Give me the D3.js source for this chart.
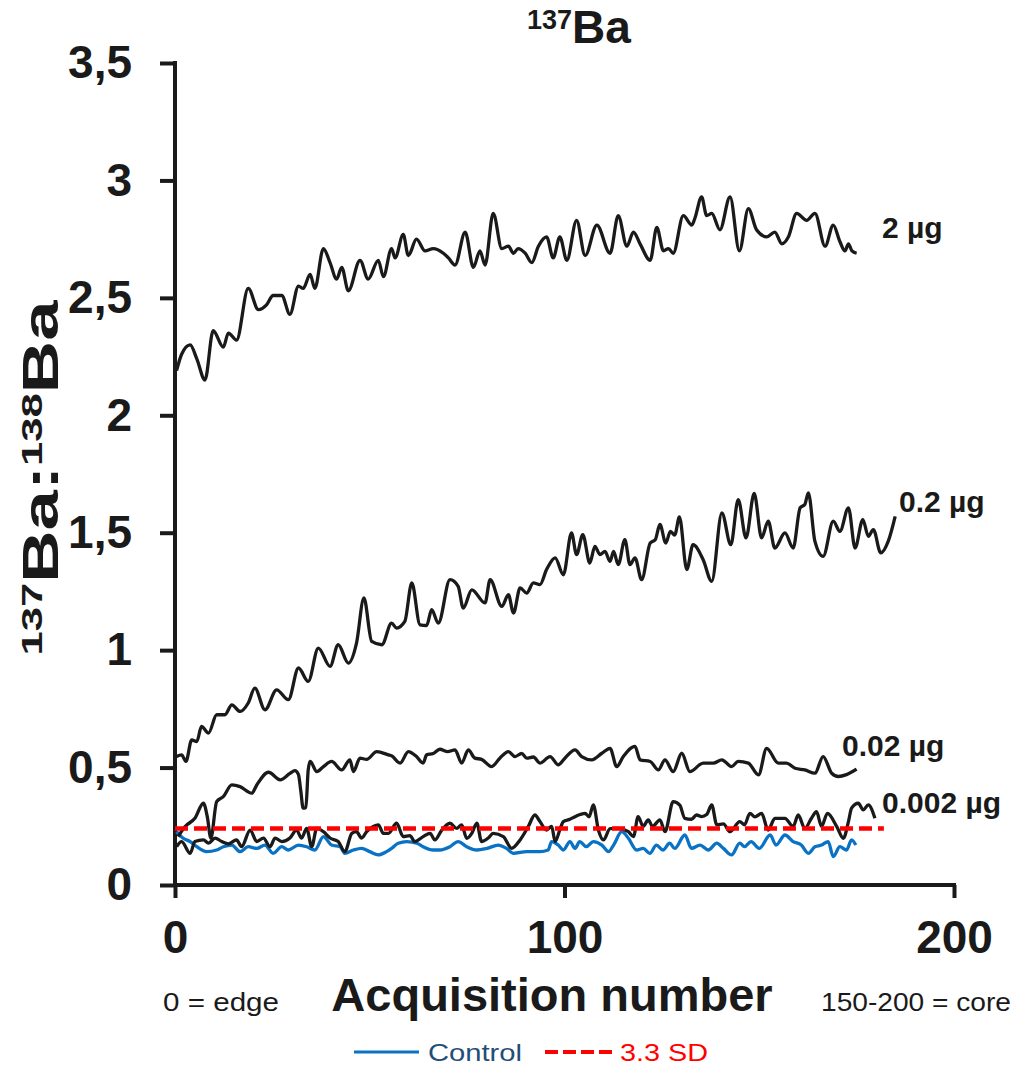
<!DOCTYPE html>
<html><head><meta charset="utf-8">
<script src="https://cdn.jsdelivr.net/npm/d3@7"></script>
<style>html,body{margin:0;padding:0;background:#fff;}svg{display:block;}</style>
</head><body>
<svg id="c" width="1013" height="1066"></svg>
<script>
const xTicks = [0, 100, 200];
const yTicks = [0, 0.5, 1, 1.5, 2, 2.5, 3, 3.5];
const yTickLabels = ["0", "0,5", "1", "1,5", "2", "2,5", "3", "3,5"];
const seriesNames = ["2 µg", "0.2 µg", "0.02 µg", "0.002 µg"];
const sdLevel = 0.241;
const sdRange = [0, 182];

const s2ug = [[0.4,2.19],[1.7,2.26],[3.9,2.30],[5.6,2.24],[7.7,2.15],[9.8,2.36],[12.4,2.29],[13.7,2.35],[15.8,2.32],[18.8,2.54],[21.4,2.45],[23.5,2.47],[25.2,2.51],[27.4,2.51],[29.5,2.43],[31.7,2.55],[32.9,2.54],[34.7,2.60],[35.9,2.54],[38.1,2.71],[39.8,2.65],[41.5,2.58],[42.8,2.63],[44.5,2.53],[47.5,2.66],[49.6,2.58],[52.2,2.66],[53.5,2.59],[55.6,2.71],[56.5,2.67],[58.6,2.77],[59.9,2.68],[62,2.75],[64.2,2.70],[66.3,2.71],[68.9,2.69],[70.2,2.67],[71.9,2.64],[74.5,2.78],[76.6,2.63],[78.3,2.70],[79.6,2.64],[81.7,2.86],[83.9,2.71],[85.6,2.72],[86.9,2.69],[88.1,2.71],[89.9,2.69],[91.6,2.65],[93.3,2.72],[95.4,2.76],[97.1,2.67],[98.8,2.76],[100.6,2.66],[103.1,2.83],[105.3,2.68],[108.3,2.81],[111.7,2.69],[113.8,2.85],[116,2.72],[117.7,2.78],[119.4,2.73],[122,2.66],[123.7,2.80],[125.4,2.70],[126.7,2.71],[127.9,2.69],[130.5,2.85],[132.7,2.81],[133.5,2.84],[135.2,2.93],[136.5,2.85],[137.8,2.86],[139.9,2.79],[142.5,2.93],[144.9,2.70],[147.2,2.88],[149.3,2.79],[151.9,2.76],[154,2.78],[155.8,2.73],[157.5,2.76],[159.6,2.86],[162.2,2.83],[164.3,2.86],[166.9,2.72],[169,2.81],[170.7,2.74],[172,2.70],[172.9,2.73],[173.8,2.70],[175,2.69]];

const s02ug = [[0.4,0.547],[1.7,0.554],[2.8,0.526],[4.3,0.618],[5.6,0.611],[6.8,0.675],[8.6,0.647],[10.7,0.725],[12.8,0.725],[14.6,0.767],[16.7,0.739],[18.8,0.775],[20.5,0.838],[23.1,0.746],[26.1,0.831],[29.1,0.789],[31.7,0.924],[34.2,0.867],[36.8,1.009],[39.8,0.931],[41.9,1.023],[44.5,0.945],[46.6,1.030],[48.5,1.222],[50.5,1.037],[53.1,1.023],[55.6,1.115],[56.9,1.094],[59,1.122],[60.8,1.286],[62.9,1.108],[64.6,1.105],[65.9,1.172],[67.6,1.115],[70.6,1.300],[72.7,1.272],[74,1.179],[76.2,1.257],[79.6,1.201],[80.9,1.300],[83.9,1.186],[85.6,1.236],[86.9,1.158],[88.6,1.265],[90.3,1.243],[92,1.286],[93.7,1.279],[95.4,1.343],[97.6,1.393],[99.7,1.321],[101.8,1.499],[103.1,1.407],[104.7,1.492],[106.5,1.371],[107.8,1.442],[109.1,1.407],[110.4,1.42],[111.7,1.378],[112.6,1.42],[113.8,1.364],[115.5,1.471],[116.8,1.364],[118.1,1.393],[119.8,1.300],[122,1.456],[123.3,1.47],[124.5,1.535],[126,1.456],[127.2,1.506],[128.3,1.49],[129.5,1.567],[131.4,1.343],[133,1.449],[135.6,1.385],[137.8,1.293],[140.4,1.584],[142.7,1.449],[144.6,1.641],[146.6,1.478],[148.7,1.667],[150.6,1.478],[152.3,1.549],[154,1.435],[156.6,1.499],[158.7,1.435],[160.5,1.606],[161.7,1.62],[162.6,1.670],[164.3,1.463],[166.4,1.399],[169,1.549],[170.7,1.506],[172.9,1.606],[174.6,1.435],[176.6,1.556],[178,1.485],[179.3,1.513],[181.2,1.414],[183.1,1.463],[184.9,1.570]];

const s002ug = [[0.8,0.206],[2.6,0.249],[5.1,0.284],[7.3,0.348],[8.3,0.29],[9.2,0.199],[10.7,0.355],[12.4,0.376],[14.6,0.426],[16.7,0.419],[19.7,0.391],[21,0.426],[24,0.48],[27,0.448],[29.5,0.475],[30.8,0.487],[31.7,0.47],[32.3,0.40],[32.9,0.327],[33.6,0.33],[34.2,0.490],[34.7,0.526],[36.4,0.483],[38.1,0.504],[40.2,0.526],[42.8,0.490],[44.9,0.533],[45.8,0.483],[47.5,0.540],[49.2,0.535],[51.8,0.568],[54.8,0.554],[55.6,0.55],[57.8,0.519],[59.9,0.568],[62,0.547],[63.7,0.519],[64.6,0.554],[66.3,0.56],[68,0.578],[70,0.568],[71.9,0.575],[73.6,0.519],[75.3,0.575],[77,0.540],[78.7,0.535],[81.3,0.504],[83.4,0.540],[85.6,0.568],[87.3,0.547],[89,0.56],[90.3,0.540],[92,0.545],[93.7,0.519],[96.3,0.547],[98.4,0.512],[100.1,0.540],[102.7,0.575],[104.4,0.547],[107,0.533],[109.6,0.561],[111.7,0.582],[113.4,0.504],[115.1,0.547],[118.1,0.590],[119.4,0.533],[122,0.526],[124.1,0.490],[125.8,0.533],[127.9,0.483],[130.1,0.561],[132.2,0.483],[135.6,0.519],[138.2,0.519],[140.4,0.533],[142.9,0.504],[144.6,0.526],[147.2,0.519],[149.8,0.469],[151.9,0.582],[154.9,0.519],[157,0.519],[159.2,0.497],[161.7,0.49],[164.3,0.476],[166.4,0.547],[168.6,0.476],[170.3,0.462],[172.4,0.47],[175,0.493]];

const s0002ug = [[0.4,0.163],[1.7,0.185],[3.9,0.135],[5.1,0.185],[7.3,0.192],[8.6,0.178],[10.3,0.20],[12,0.185],[13.7,0.175],[15.8,0.192],[17.1,0.163],[19.3,0.234],[21,0.185],[22.7,0.20],[24.4,0.163],[25.7,0.20],[27.4,0.185],[29.5,0.20],[31.2,0.234],[32.5,0.20],[33.8,0.241],[35.1,0.163],[36.4,0.241],[38.1,0.227],[39.8,0.20],[41.9,0.185],[43.6,0.142],[45.4,0.220],[46.6,0.227],[47.9,0.20],[49.2,0.227],[50.9,0.249],[52.2,0.256],[53.5,0.22],[54.8,0.22],[56.9,0.263],[58.6,0.206],[60.3,0.21],[61.6,0.185],[63.7,0.206],[65.5,0.220],[66.7,0.192],[68.5,0.234],[70.6,0.263],[72.3,0.241],[73.6,0.256],[74.9,0.199],[76.2,0.22],[77.5,0.263],[78.7,0.185],[80.4,0.20],[81.7,0.220],[84.3,0.206],[86.4,0.156],[88.6,0.192],[90.7,0.249],[92.4,0.298],[93.7,0.270],[95.4,0.234],[96.7,0.25],[97.6,0.185],[98.9,0.24],[99.7,0.270],[101.4,0.28],[102.7,0.291],[104,0.30],[105.3,0.305],[106.3,0.29],[107.4,0.341],[108.7,0.234],[110,0.192],[111.7,0.24],[113.8,0.241],[116.4,0.227],[117.7,0.206],[118.9,0.291],[120.2,0.25],[121.5,0.277],[122.6,0.25],[124.5,0.277],[125.8,0.227],[127.9,0.355],[129.6,0.34],[130.9,0.284],[132.6,0.28],[133.9,0.298],[135.2,0.291],[136.5,0.30],[137.8,0.341],[139.1,0.256],[140.8,0.26],[142.5,0.227],[145,0.270],[146.2,0.256],[147.6,0.305],[148.9,0.29],[150.6,0.305],[152.3,0.234],[154,0.284],[156.6,0.284],[158.7,0.249],[160,0.298],[161.7,0.241],[163.4,0.284],[164.7,0.312],[166,0.25],[167.5,0.305],[169.9,0.249],[171.6,0.199],[172.9,0.27],[173.7,0.327],[175.4,0.348],[176.7,0.320],[178,0.341],[179.7,0.284]];

const control = [[0.4,0.227],[2.1,0.199],[3.9,0.185],[5.6,0.163],[8.1,0.142],[10.7,0.149],[12.4,0.163],[14.6,0.17],[16.7,0.142],[18.8,0.163],[21,0.156],[23.1,0.170],[25.2,0.135],[27.4,0.163],[29.1,0.149],[31.7,0.170],[33.8,0.163],[35.9,0.149],[38.1,0.206],[40.2,0.17],[42.4,0.163],[43.6,0.135],[45.8,0.149],[47.9,0.156],[50,0.142],[52.2,0.128],[54.3,0.142],[55.6,0.156],[57.3,0.178],[59.5,0.185],[62.1,0.178],[63.7,0.163],[66.3,0.149],[68,0.149],[70.6,0.163],[72.7,0.185],[74.9,0.163],[77.5,0.149],[80.1,0.156],[83,0.17],[85.1,0.156],[86.9,0.135],[90.3,0.142],[93.7,0.142],[95.8,0.149],[96.7,0.185],[98.4,0.17],[99.7,0.149],[101.4,0.185],[102.7,0.156],[103.9,0.185],[105.6,0.163],[107.4,0.185],[109.6,0.17],[111.3,0.142],[112.6,0.17],[114.7,0.227],[116.4,0.199],[118.5,0.149],[120.2,0.156],[121.9,0.135],[123.6,0.17],[125.3,0.149],[127,0.178],[128.3,0.156],[130.9,0.213],[132.6,0.156],[134.8,0.17],[136.9,0.149],[139.1,0.178],[140.8,0.156],[142.9,0.128],[145,0.178],[146.2,0.163],[147.9,0.185],[150,0.156],[152.8,0.213],[154.3,0.170],[156.6,0.213],[158.7,0.185],[160.8,0.17],[162.6,0.135],[164.3,0.163],[166,0.17],[167.7,0.185],[169,0.121],[170.7,0.163],[172.4,0.149],[173.7,0.192],[174.8,0.170]];

const FONT = "'Liberation Sans', Arial, Helvetica, sans-serif";
const INK = "#1a1a1a";
const svg = d3.select("#c");
const x = d3.scaleLinear().domain([0, 200]).range([175, 954]);
const y = d3.scaleLinear().domain([0, 3.5]).range([885, 63]);

// axes
const yAxis = d3.axisLeft(y).tickValues(yTicks).tickSize(15).tickSizeOuter(0).tickFormat((d,i)=>yTickLabels[i]).tickPadding(28);
const gy = svg.append("g").attr("transform","translate(175,0)").call(yAxis);
const xAxis = d3.axisBottom(x).tickValues(xTicks).tickSize(13).tickSizeOuter(0).tickPadding(22);
const gx = svg.append("g").attr("transform","translate(0,885)").call(xAxis);
[gy, gx].forEach(g => {
  g.select(".domain").attr("stroke", INK).attr("stroke-width", 4);
  g.selectAll(".tick line").attr("stroke", INK).attr("stroke-width", 4);
  g.selectAll(".tick text").attr("fill", INK).attr("font-family", FONT).attr("font-weight","bold").attr("font-size", 46);
});
gy.select(".domain").attr("d", `M0,${y(3.5)-2}V${y(0)+2}`);
gx.select(".domain").attr("d", `M${x(0)-2},0H${x(200)+2}`);
gx.selectAll(".tick text").attr("dy","0.71em");

const line = d3.line().x(d=>x(d[0])).y(d=>y(d[1])).curve(d3.curveMonotoneX);

svg.append("path").datum(control).attr("d", line).attr("fill","none").attr("stroke","#0a72c4").attr("stroke-width",3.3).attr("stroke-linejoin","round");
[s2ug, s02ug, s002ug, s0002ug].forEach(s => {
  svg.append("path").datum(s).attr("d", line).attr("fill","none").attr("stroke",INK).attr("stroke-width",3.3).attr("stroke-linejoin","round");
});
svg.append("line").attr("x1", x(sdRange[0])).attr("x2", x(sdRange[1])).attr("y1", y(sdLevel)).attr("y2", y(sdLevel))
  .attr("stroke","#ff0000").attr("stroke-width",4.5).attr("stroke-dasharray","13 6");

// series labels
const labelPos = [[882, 2.755], [899, 1.588], [842, 0.549], [882, 0.307]];
seriesNames.forEach((n,i) => {
  svg.append("text").attr("x", labelPos[i][0]).attr("y", y(labelPos[i][1])).text(n)
    .attr("font-family", FONT).attr("font-weight","bold").attr("font-size", 30).attr("fill", INK);
});

// title
const t = svg.append("text").attr("x", 527).attr("y", 43).attr("font-family", FONT).attr("font-weight","bold").attr("fill", INK);
t.append("tspan").attr("font-size", 27).attr("dy", -14).text("137");
t.append("tspan").attr("font-size", 46).attr("dy", 14).text("Ba");

// y label
const yl = svg.append("text").attr("transform","translate(58,478) rotate(-90)").attr("text-anchor","middle")
  .attr("font-family", FONT).attr("font-weight","bold").attr("fill", INK)
  .attr("textLength", 355).attr("lengthAdjust","spacingAndGlyphs");
yl.append("tspan").attr("font-size", 30).attr("dy", -16).text("137");
yl.append("tspan").attr("font-size", 50).attr("dy", 16).text("Ba:");
yl.append("tspan").attr("font-size", 30).attr("dy", -16).text("138");
yl.append("tspan").attr("font-size", 50).attr("dy", 16).text("Ba");

// x label
svg.append("text").attr("x", 552).attr("y", 1011).attr("text-anchor","middle").text("Acquisition number")
  .attr("font-family", FONT).attr("font-weight","bold").attr("font-size", 47).attr("fill", INK);
svg.append("text").attr("x", 163).attr("y", 1011).text("0 = edge")
  .attr("font-family", FONT).attr("font-size", 26).attr("fill", INK).attr("textLength",116).attr("lengthAdjust","spacingAndGlyphs");
svg.append("text").attr("x", 821).attr("y", 1011).text("150-200 = core")
  .attr("font-family", FONT).attr("font-size", 26).attr("fill", INK).attr("textLength",190).attr("lengthAdjust","spacingAndGlyphs");

// legend
svg.append("line").attr("x1",354).attr("x2",419).attr("y1",1052).attr("y2",1052).attr("stroke","#0a72c4").attr("stroke-width",3);
svg.append("text").attr("x",428).attr("y",1061).text("Control").attr("font-family",FONT).attr("font-size",24).attr("fill","#1f4e79")
  .attr("textLength",94).attr("lengthAdjust","spacingAndGlyphs");
svg.append("line").attr("x1",545).attr("x2",614).attr("y1",1052).attr("y2",1052).attr("stroke","#ff0000").attr("stroke-width",4).attr("stroke-dasharray","13 5");
svg.append("text").attr("x",620).attr("y",1061).text("3.3 SD").attr("font-family",FONT).attr("font-size",24).attr("fill","#ff0000")
  .attr("textLength",88).attr("lengthAdjust","spacingAndGlyphs");
</script>
</body></html>
